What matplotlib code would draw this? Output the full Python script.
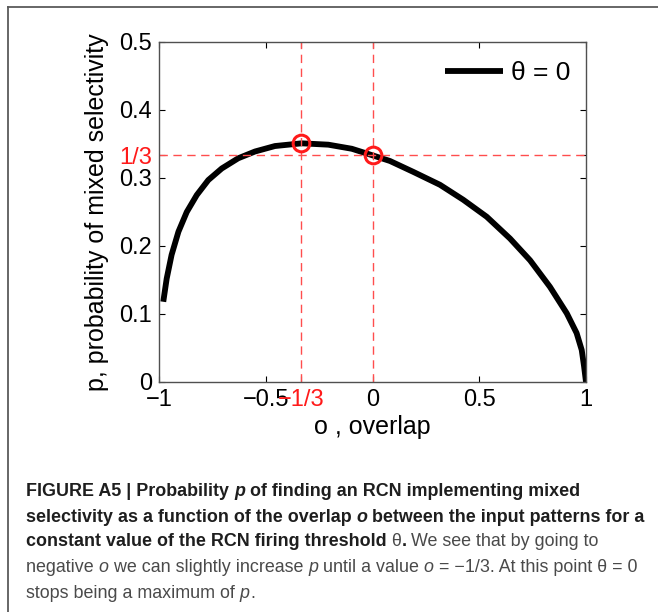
import numpy as np
import matplotlib
matplotlib.use('Agg')
import matplotlib.pyplot as plt
from matplotlib.lines import Line2D

# p(o) for theta = 0
overlap = [-0.980, -0.964, -0.941, -0.909, -0.870, -0.823, -0.769, -0.706, -0.629,
           -0.550, -0.457, -0.332, -0.207, -0.097, 0.0, 0.082, 0.191, 0.316,
           0.425, 0.535, 0.644, 0.738, 0.831, 0.910, 0.956, 0.980, 0.991, 1.0]
prob = [0.118, 0.152, 0.187, 0.221, 0.250, 0.275, 0.297, 0.314, 0.329,
        0.339, 0.347, 0.351, 0.349, 0.343, 1 / 3, 0.325, 0.309, 0.290,
        0.268, 0.243, 0.211, 0.179, 0.140, 0.101, 0.072, 0.047, 0.023, 0.0]

# marked points and guide values
mark_o = [-1 / 3, 0.0]
mark_p = [0.351, 1 / 3]
guide_x = [-1 / 3, 0.0]
guide_y = 1 / 3

xticks = [-1, -0.5, -1 / 3, 0, 0.5, 1]
xticklabels = ['\u22121', '\u22120.5', '\u22121/3', '0', '0.5', '1']
yticks = [0, 0.1, 0.2, 0.3, 1 / 3, 0.4, 0.5]
yticklabels = ['0', '0.1', '0.2', '0.3', '1/3', '0.4', '0.5']

W, H = 658, 612
fig = plt.figure(figsize=(W / 100, H / 100), dpi=100)
fig.patch.set_facecolor('white')

main_font = ['Liberation Sans', 'DejaVu Sans']
plt.rcParams['font.family'] = main_font

ax = fig.add_axes([159 / W, 1 - 382 / H, 427 / W, 340 / H])
red = '#ff1a1a'
dash_red = '#ff4d4d'

ax.plot(overlap, prob, color='black', lw=4.2, solid_capstyle='butt',
        solid_joinstyle='round', label='\u03b8 = 0')
for gx in guide_x:
    ax.axvline(gx, color=dash_red, lw=1.0, dashes=(6, 4))
ax.axhline(guide_y, color=dash_red, lw=1.0, dashes=(6, 4))
ax.plot(mark_o, mark_p, 'o', ms=12, mfc='none', mec=red, mew=2.2)

ax.set_xlim(-1, 1)
ax.set_ylim(0, 0.5)
ax.set_xticks(xticks)
ax.set_xticklabels(xticklabels)
ax.set_yticks(yticks)
ax.set_yticklabels(yticklabels)
ax.tick_params(direction='in', length=4, width=0.8, labelsize=17, colors='black',
               top=True, right=True, pad=5)
for lab in ax.get_xticklabels():
    if lab.get_text() == '\u22121/3':
        lab.set_color(red)
for lab in ax.get_yticklabels():
    if lab.get_text() == '1/3':
        lab.set_color(red)
for tk, v in zip(ax.xaxis.get_major_ticks(), xticks):
    if abs(v + 1 / 3) < 1e-9:
        tk.tick1line.set_color(dash_red)
        tk.tick2line.set_color(dash_red)
for tk, v in zip(ax.yaxis.get_major_ticks(), yticks):
    if abs(v - 1 / 3) < 1e-9:
        tk.tick1line.set_color(dash_red)
        tk.tick2line.set_color(dash_red)
for sp in ax.spines.values():
    sp.set_color('#505050')
    sp.set_linewidth(1.0)

ax.set_xlabel('o , overlap', fontsize=18, labelpad=3)
ax.set_ylabel('p, probability of mixed selectivity', fontsize=18, labelpad=7.5)

ax.legend(loc='center right', bbox_to_anchor=((570 - 159) / 427, 1 - (73 - 42) / 340),
          frameon=False, fontsize=19, handlelength=2.2, handletextpad=0.3,
          borderpad=0, borderaxespad=0)

# open frame around the figure and its caption
frame_kw = dict(color='#5a5a5a', lw=1.3, transform=fig.transFigure)
fig.add_artist(Line2D([8 / W, 8 / W], [0, 1 - 7 / H], **frame_kw))
fig.add_artist(Line2D([8 / W, 1], [1 - 7 / H, 1 - 7 / H], **frame_kw))

# caption, drawn run by run so bold, italic and plain text share a line
cap_font = ['Liberation Sans Narrow', 'Liberation Sans', 'DejaVu Sans']
bold_c = '#1e1e1e'
reg_c = '#4a4a4a'
B, BI, R, I = ('bold', 'normal', bold_c), ('bold', 'italic', bold_c), \
    ('normal', 'normal', reg_c), ('normal', 'italic', reg_c)
caption = [
    [('FIGURE A5 | Probability ', B), ('p', BI), (' of finding an RCN implementing mixed', B)],
    [('selectivity as a function of the overlap ', B), ('o', BI),
     (' between the input patterns for a', B)],
    [('constant value of the RCN firing threshold ', B), ('\u03b8', R), ('.', B),
     (' We see that by going to', R)],
    [('negative ', R), ('o', I), (' we can slightly increase ', R), ('p', I),
     (' until a value ', R), ('o', I), (' = \u22121/3. At this point \u03b8 = 0', R)],
    [('stops being a maximum of ', R), ('p', I), ('.', R)],
]
line_y = [492, 517, 542, 568, 593]

renderer = fig.canvas.get_renderer()
for runs, yc in zip(caption, line_y):
    x = 26
    for s, (weight, style, col) in runs:
        t = fig.text(x / W, 1 - yc / H, s, fontsize=12.9, family=cap_font,
                     fontweight=weight, fontstyle=style, color=col,
                     ha='left', va='center')
        x += t.get_window_extent(renderer).width

fig.savefig('out.png', dpi=100)
